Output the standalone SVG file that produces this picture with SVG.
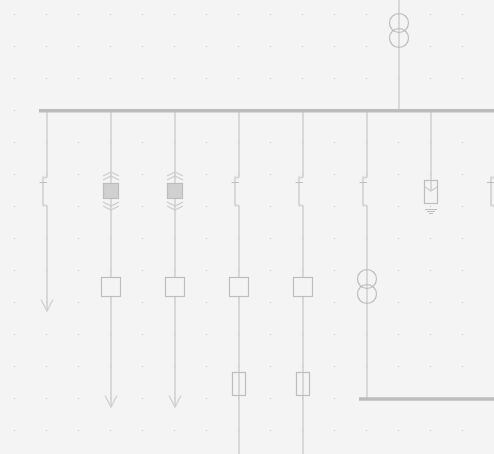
<svg xmlns="http://www.w3.org/2000/svg" width="494" height="454" viewBox="0 0 494 454">
<style>
.wire{fill:none;stroke:#d8d8d8;stroke-width:2}
.bus{fill:none;stroke:#bcbcbc;stroke-width:3.4}
.sym{fill:#f4f4f4;stroke:#bdbdbd;stroke-width:1.2}
.open{fill:none;stroke:#bdbdbd;stroke-width:1.2}
.chev{fill:none;stroke:#cccccc;stroke-width:1.2}
.head{fill:none;stroke:#d0d0d0;stroke-width:1.3}
.tick{fill:none;stroke:#bdbdbd;stroke-width:1}
</style>
<defs>
<pattern id="dots" x="14" y="14" width="32" height="32" patternUnits="userSpaceOnUse"><rect width="1" height="1" fill="#c2c2c2"/></pattern>
<g id="sw"><path class="wire" d="M0 177.500H-4V205.500H0"/><path class="tick" d="M-7.500 182.500H0"/></g>
<g id="ds"><path class="chev" d="M-8 176L0 172L8 176M-8 180L0 176L8 180M-8 202L0 206L8 202M-8 206L0 210L8 206"/><rect x="-7.500" y="183.500" width="15" height="15" fill="#d0d0d0" stroke="#bdbdbd" stroke-width="1.200"/></g>
<rect id="box" x="-9.500" y="277.500" width="19" height="19" class="sym"/>
<rect id="fuse" x="-6.500" y="372.500" width="13" height="23" class="open"/>
<path id="arrow" class="head" d="M-6 -11.500L0 0L6 -11.500"/>
</defs>
<rect width="494" height="454" fill="#f4f4f4"/>
<g id="connectors">
<path class="wire" d="M47 110V177.500M47 205.500V311"/>
<path class="wire" d="M111 110V407"/>
<path class="wire" d="M175 110V407"/>
<path class="wire" d="M239 110V177.500M239 205.500V454"/>
<path class="wire" d="M303 110V177.500M303 205.500V454"/>
<path class="wire" d="M367 110V177.500M367 205.500V398"/>
<path class="wire" d="M399 0V110"/>
<path class="wire" d="M431 110V191"/>
</g>
<rect width="494" height="454" fill="url(#dots)"/>
<g id="bus-main"><path class="bus" d="M39 110.700H494"/></g>
<g id="bus-lower"><path class="bus" d="M359 399H494"/></g>
<g id="transformer-top"><circle class="open" cx="399" cy="23" r="9.500"/><circle class="open" cx="399" cy="38" r="9.500"/></g>
<g id="feeder-1"><use href="#sw" x="47"/><use href="#arrow" x="47" y="311"/></g>
<g id="feeder-2"><use href="#ds" x="111"/><use href="#box" x="111"/><use href="#arrow" x="111" y="407"/></g>
<g id="feeder-3"><use href="#ds" x="175"/><use href="#box" x="175"/><use href="#arrow" x="175" y="407"/></g>
<g id="feeder-4"><use href="#sw" x="239"/><use href="#box" x="239"/><use href="#fuse" x="239"/></g>
<g id="feeder-5"><use href="#sw" x="303"/><use href="#box" x="303"/><use href="#fuse" x="303"/></g>
<g id="feeder-6"><use href="#sw" x="367"/><circle class="open" cx="367" cy="279" r="9.500"/><circle class="open" cx="367" cy="294" r="9.500"/></g>
<g id="arrester"><rect x="424.500" y="180.500" width="13" height="23" class="open"/><path class="chev" d="M425 187L431 191L437 187"/><path class="tick" d="M425 209.500H437M427 211.500H435M429 213.500H433"/></g>
<g id="feeder-8"><path class="wire" d="M494 177.500H491V205.500H494"/><path class="tick" d="M487 182.500H494"/></g>
</svg>
